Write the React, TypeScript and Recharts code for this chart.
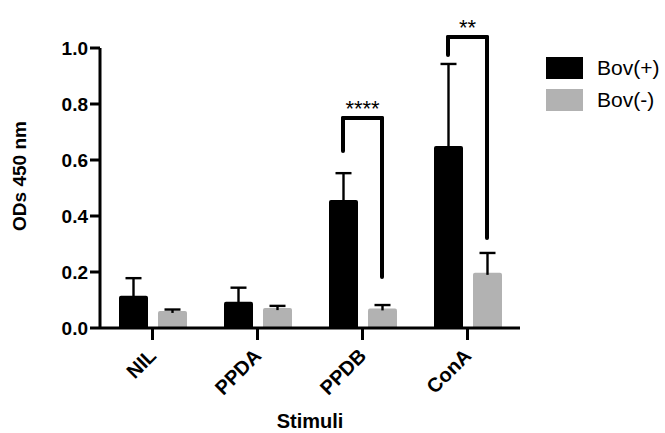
import {
  BarChart,
  Bar,
  XAxis,
  YAxis,
  ReferenceLine,
  Rectangle,
} from "recharts";

// --- Data ---
const categories = ["NIL", "PPDA", "PPDB", "ConA"];
const bovPos = [0.115, 0.094, 0.457, 0.65];
const bovPosErr = [0.063, 0.05, 0.096, 0.293];
const bovNeg = [0.061, 0.071, 0.07, 0.197];
const bovNegErr = [0.005, 0.008, 0.012, 0.071];
const yTicks = [0, 0.2, 0.4, 0.6, 0.8, 1.0];

// significance brackets: category index, left leg bottom, top, right leg bottom
const bracketCats = [2, 3];
const bracketLeft = [0.632, 0.975];
const bracketTop = [0.75, 1.039];
const bracketRight = [0.182, 0.321];
const bracketLabels = ["****", "**"];

const series = [
  { key: "pos", errKey: "posErr", name: "Bov(+)", color: "#000000" },
  { key: "neg", errKey: "negErr", name: "Bov(-)", color: "#b2b2b2" },
];

const data = categories.map((name, i) => ({
  name,
  idx: i,
  pos: bovPos[i],
  posErr: bovPosErr[i],
  neg: bovNeg[i],
  negErr: bovNegErr[i],
}));

const FONT = "'Liberation Sans', Arial, sans-serif";
const BAR_SIZE = 29;
const BAR_GAP = 10;
const BAND = 105; // px per category

// bar centers within a band, as fraction of the band
const leftFrac = ((BAND - (2 * BAR_SIZE + BAR_GAP)) / 2 + BAR_SIZE / 2) / BAND;
const rightFrac = 1 - leftFrac;

const makeShape = (errKey: string) => (props: any) => {
  const { x, y, width, height, fill, payload, value } = props;
  const v = Array.isArray(value) ? value[1] : value;
  const e = payload[errKey];
  const ePx = v ? (height * e) / v : 0;
  const cx = x + width / 2;
  const top = y - ePx;
  return (
    <g>
      <Rectangle x={x} y={y} width={width} height={height} fill={fill} radius={[2, 2, 0, 0]} />
      <line x1={cx} y1={y + 2} x2={cx} y2={top} stroke="#000" strokeWidth={2.4} />
      <line x1={cx - 8} y1={top} x2={cx + 8} y2={top} stroke="#000" strokeWidth={2.4} />
    </g>
  );
};

const XTick = (props: any) => {
  const { x, y, payload } = props;
  return (
    <text
      x={x + 5}
      y={y + 15}
      transform={`rotate(-45, ${x + 5}, ${y + 15})`}
      textAnchor="end"
      fontFamily={FONT}
      fontWeight="bold"
      fontSize={20}
      fill="#000"
    >
      {payload.value}
    </text>
  );
};

export default function App() {
  const lineProps = {
    stroke: "#000",
    strokeWidth: 4,
    strokeLinecap: "round" as const,
    ifOverflow: "visible" as const,
    xAxisId: "num",
  };
  return (
    <div style={{ position: "absolute", left: 0, top: 0, width: 665, height: 433, background: "#fff" }}>
      <BarChart
        width={665}
        height={433}
        data={data}
        margin={{ top: 48, right: 145, left: 0, bottom: 0 }}
        barGap={BAR_GAP}
        barSize={BAR_SIZE}
      >
        <XAxis
          dataKey="name"
          height={105}
          axisLine={{ stroke: "#000", strokeWidth: 3 }}
          tickLine={{ stroke: "#000", strokeWidth: 3 }}
          tickSize={12}
          tick={<XTick />}
          interval={0}
          label={({ viewBox }: any) => (
            <text
              x={viewBox.x + viewBox.width / 2}
              y={viewBox.y + 100}
              textAnchor="middle"
              fontFamily={FONT}
              fontWeight="bold"
              fontSize={20}
              fill="#000"
            >
              Stimuli
            </text>
          )}
        />
        <XAxis
          xAxisId="num"
          type="number"
          dataKey="idx"
          domain={[0, categories.length]}
          allowDataOverflow
          hide
        />
        <YAxis
          width={100}
          domain={[0, 1]}
          ticks={yTicks}
          tickFormatter={(v: number) => v.toFixed(1)}
          axisLine={{ stroke: "#000", strokeWidth: 3 }}
          tickLine={{ stroke: "#000", strokeWidth: 3 }}
          tickSize={10}
          tickMargin={2}
          tick={{ fill: "#000", fontFamily: FONT, fontWeight: "bold", fontSize: 19 }}
          label={({ viewBox }: any) => {
            const cx = 19;
            const cy = viewBox.y + viewBox.height / 2 - 12;
            return (
              <text
                x={cx}
                y={cy}
                transform={`rotate(-90, ${cx}, ${cy})`}
                textAnchor="middle"
                dominantBaseline="central"
                fontFamily={FONT}
                fontWeight="bold"
                fontSize={19}
                fill="#000"
              >
                ODs 450 nm
              </text>
            );
          }}
        />
        {series.map((s) => (
          <Bar
            key={s.key}
            dataKey={s.key}
            name={s.name}
            fill={s.color}
            isAnimationActive={false}
            shape={makeShape(s.errKey)}
          />
        ))}
        {bracketCats.map((c, i) => {
          const xl = c + leftFrac;
          const xr = c + rightFrac;
          return [
            <ReferenceLine
              key={`l${i}`}
              {...lineProps}
              segment={[{ x: xl, y: bracketLeft[i] }, { x: xl, y: bracketTop[i] }]}
            />,
            <ReferenceLine
              key={`t${i}`}
              {...lineProps}
              segment={[{ x: xl, y: bracketTop[i] }, { x: xr, y: bracketTop[i] }]}
              label={{
                value: bracketLabels[i],
                position: "top",
                offset: 2,
                fill: "#000",
                fontSize: 22,
                fontFamily: FONT,
              }}
            />,
            <ReferenceLine
              key={`r${i}`}
              {...lineProps}
              segment={[{ x: xr, y: bracketTop[i] }, { x: xr, y: bracketRight[i] }]}
            />,
          ];
        })}
      </BarChart>
      <div style={{ position: "absolute", left: 546, top: 57, fontFamily: FONT, fontSize: 21 }}>
        {series.map((s, i) => (
          <div
            key={s.key}
            style={{ display: "flex", alignItems: "center", height: 22, marginBottom: i === 0 ? 10 : 0 }}
          >
            <div style={{ width: 37, height: 22, background: s.color }} />
            <span style={{ marginLeft: 14, color: "#000" }}>{s.name}</span>
          </div>
        ))}
      </div>
    </div>
  );
}
